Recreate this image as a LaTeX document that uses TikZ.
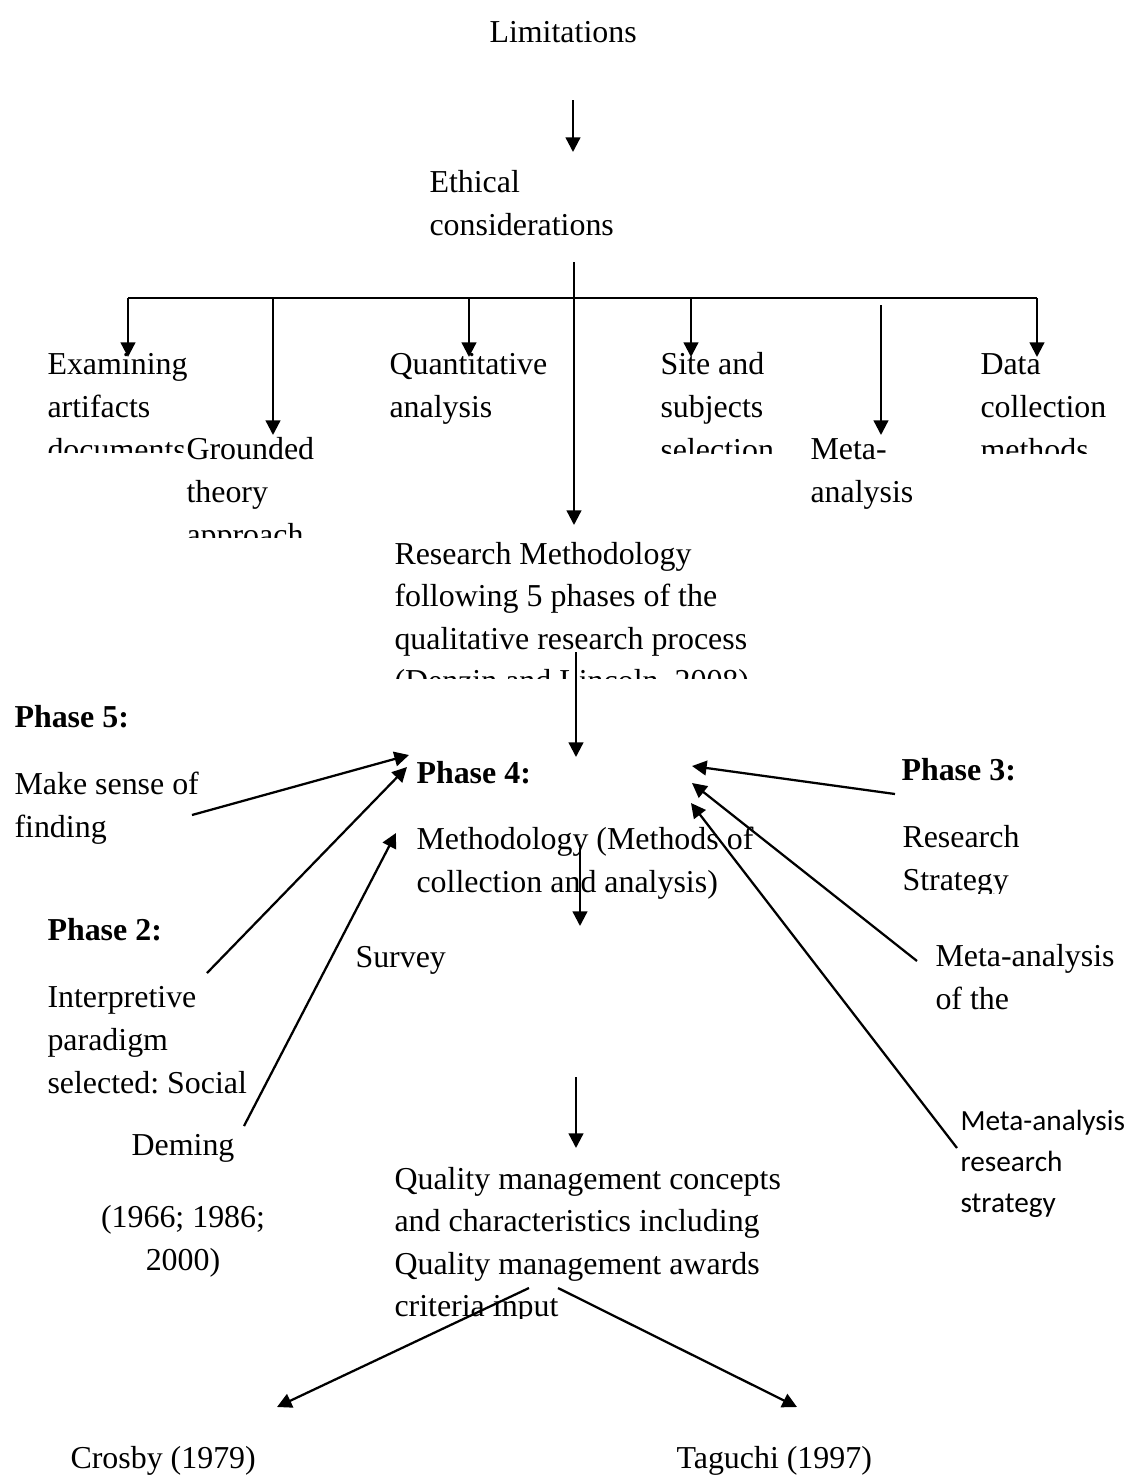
\documentclass[tikz,border=0pt]{standalone}
\usepackage{fontspec}
\setmainfont{Liberation Serif}
\newfontfamily\calibrifont{Carlito}
\usetikzlibrary{arrows.meta}
\frenchspacing

\begin{document}
\begin{tikzpicture}[
    x=0.376pt, y=-0.376pt,
    >={Triangle[length=5.5pt,width=5.5pt]},
    % multi-line texts sit on the baseline of their last line
    txt/.style={anchor=base west, align=left, inner sep=0pt, font=\fontsize{12}{16}\selectfont},
    phase/.style={txt, font=\fontsize{12}{16}\selectfont\bfseries},
    small/.style={txt, font=\calibrifont\fontsize{11}{15.4}\selectfont},
    link/.style={->, line width=0.85pt},
    bus/.style={line width=0.85pt},
]
  \path[fill=white] (0,0) rectangle (1128,1483);

  % ---------------- top ----------------
  \node[txt] (limits) at (489,42) {Limitations};
  \node[txt] (ethics) at (429,235) {Ethical\\considerations};

  % ---------------- methods row ----------------
  \begin{scope}
    \clip (0,0) rectangle (1128,452);
    \node[txt] (exam) at (47,460) {Examining\\artifacts\\documents};
  \end{scope}
  \begin{scope}
    \clip (0,0) rectangle (1128,537);
    \node[txt] (grounded) at (186,545) {Grounded\\theory\\approach};
  \end{scope}
  \node[txt] (quant) at (389,417.5) {Quantitative\\analysis};
  \begin{scope}
    \clip (0,0) rectangle (1128,453);
    \node[txt] (site) at (660,460) {Site and\\subjects\\selection};
    \node[txt] (data) at (980,460) {Data\\collection\\methods};
  \end{scope}
  \node[txt] (meta) at (810,502.5) {Meta-\\analysis};

  % ---------------- research methodology ----------------
  \begin{scope}
    \clip (0,0) rectangle (1128,678);
    \node[txt] (resmeth) at (394,691.7)
         {Research Methodology\\following 5 phases of the\\qualitative research process\\(Denzin and Lincoln, 2008)};
  \end{scope}

  % ---------------- phases ----------------
  \node[phase] (phase5) at (14,727) {Phase 5:};
  \node[txt] (sense) at (14,837.5) {Make sense of\\finding};
  \node[phase] (phase4) at (416,783) {Phase 4:};
  \node[txt] (method) at (416,892.5) {Methodology (Methods of\\collection and analysis)};
  \node[phase] (phase3) at (901,780) {Phase 3:};
  \begin{scope}
    \clip (0,0) rectangle (1128,893);
    \node[txt] (strategy) at (902,890.5) {Research\\Strategy};
  \end{scope}
  \node[phase] (phase2) at (47,940) {Phase 2:};
  \node[txt] (survey) at (355,967) {Survey};
  \node[txt] (interp) at (47,1093) {Interpretive\\paradigm\\selected: Social};
  \node[txt] (metaof) at (935,1009.5) {Meta-analysis\\of the};
  \node[small] (metastrat) at (960,1212) {Meta-analysis\\research\\strategy};
  \node[txt, anchor=base, align=center] (deming) at (183,1270) {Deming\\[11pt](1966; 1986;\\2000)};

  % ---------------- quality management ----------------
  \begin{scope}
    \clip (0,0) rectangle (1128,1318);
    \node[txt] (quality) at (394,1316.7)
         {Quality management concepts\\and characteristics including\\Quality management awards\\criteria input};
  \end{scope}
  \node[txt] (crosby) at (70,1468) {Crosby (1979)};
  \node[txt] (taguchi) at (676,1468) {Taguchi (1997)};

  % ---------------- connectors ----------------
  \coordinate (limitsOut) at (573,100);
  \coordinate (ethicsIn) at (573,152);
  \draw[link] (limitsOut) -- (ethicsIn);

  \coordinate (ethicsOut) at (574,262);
  \coordinate (resmethIn) at (574,525);
  \draw[link] (ethicsOut) -- (resmethIn);

  \coordinate (busL) at (128,298);
  \coordinate (busR) at (1037,298);
  \draw[bus] (busL) -- (busR);
  \coordinate (examIn) at (128,357);
  \coordinate (groundedIn) at (273,435);
  \coordinate (quantIn) at (469,357);
  \coordinate (siteIn) at (691,357);
  \coordinate (dataIn) at (1037,357);
  \draw[link] (busL) -- (examIn);
  \draw[link] (groundedIn |- busL) -- (groundedIn);
  \draw[link] (quantIn |- busL) -- (quantIn);
  \draw[link] (siteIn |- busL) -- (siteIn);
  \draw[link] (busR) -- (dataIn);
  \coordinate (metaTop) at (881,305);
  \coordinate (metaIn) at (881,435);
  \draw[link] (metaTop) -- (metaIn);

  \coordinate (resmethOut) at (576,652);
  \coordinate (phase4Top) at (576,757);
  \draw[link] (resmethOut) -- (phase4Top);

  % into phase 4 from the left
  \coordinate (senseOut) at (192,815);
  \coordinate (interpOut) at (207,973);
  \coordinate (demingOut) at (244,1126);
  \draw[link] (senseOut) -- (409,755) coordinate (p4a);
  \draw[link] (interpOut) -- (407,767) coordinate (p4b);
  \draw[link] (demingOut) -- (396,833) coordinate (p4c);

  % into phase 4 from the right
  \coordinate (phase3Out) at (895,794);
  \coordinate (metaofOut) at (917,961);
  \coordinate (metastratOut) at (957,1148);
  \draw[link] (phase3Out) -- (692,766) coordinate (p4d);
  \draw[link] (metaofOut) -- (692,783) coordinate (p4e);
  \draw[link] (metastratOut) -- (691,803) coordinate (p4f);

  \coordinate (methodOut) at (580,848);
  \coordinate (methodTip) at (580,926);
  \draw[link] (methodOut) -- (methodTip);

  \coordinate (qualityTop) at (576,1077);
  \coordinate (qualityIn) at (576,1148);
  \draw[link] (qualityTop) -- (qualityIn);

  \coordinate (qualityL) at (529,1288);
  \coordinate (qualityR) at (558,1288);
  \coordinate (crosbyIn) at (277,1407);
  \coordinate (taguchiIn) at (797,1407);
  \draw[link] (qualityL) -- (crosbyIn);
  \draw[link] (qualityR) -- (taguchiIn);
\end{tikzpicture}
\end{document}
